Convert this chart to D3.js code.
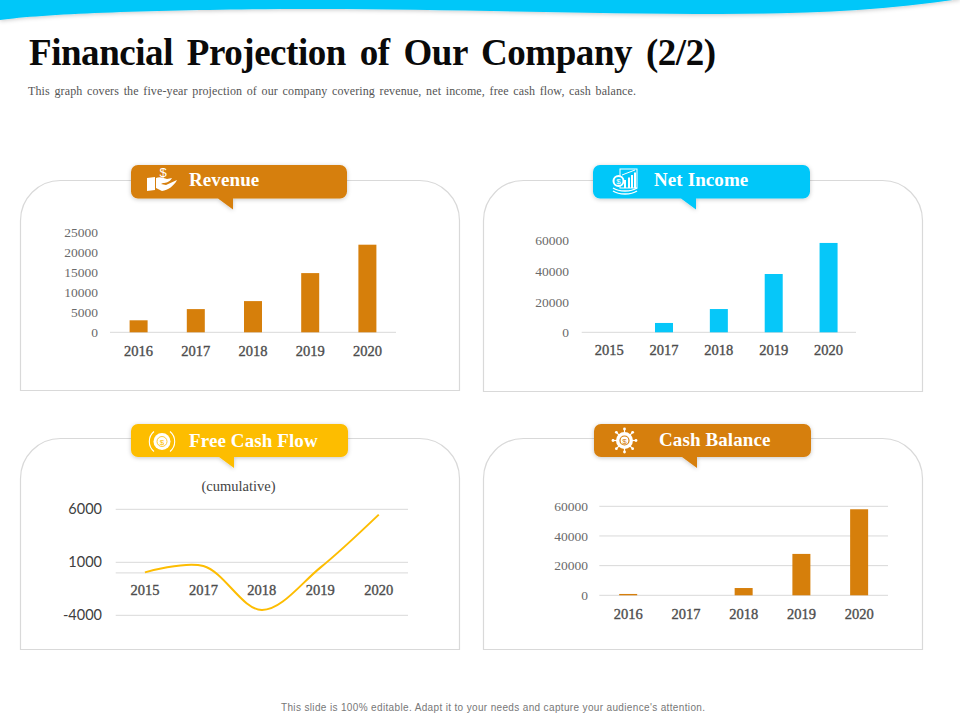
<!DOCTYPE html>
<html>
<head>
<meta charset="utf-8">
<style>
  html, body { margin: 0; padding: 0; background: #fff; }
  svg { display: block; }
  text { font-family: "Liberation Serif", serif; }
  .grid line { stroke: #d9d9d9; }
</style>
<script src="https://cdn.jsdelivr.net/npm/d3@7"></script>
</head>
<body>
<svg id="slide" width="960" height="720"></svg>
<script>
// chart values
var revenueYears = ['2016', '2017', '2018', '2019', '2020'];
var revenueValues = [3000, 5800, 7800, 14800, 21900];
var revenueTicks = [0, 5000, 10000, 15000, 20000, 25000];

var incomeYears = ['2015', '2017', '2018', '2019', '2020'];
var incomeValues = [0, 6100, 15200, 38100, 58400];
var incomeTicks = [0, 20000, 40000, 60000];

var cashFlowYears = ['2015', '2017', '2018', '2019', '2020'];
var cashFlowValues = [50, 650, -3500, 500, 5500];
var cashFlowTicks = [-4000, 1000, 6000];

var balanceYears = ['2016', '2017', '2018', '2019', '2020'];
var balanceValues = [900, 0, 4900, 27900, 58000];
var balanceTicks = [0, 20000, 40000, 60000];

var ORANGE = '#d67f0b', BLUE = '#06c7f9', YELLOW = '#fdbd02';

var svg = d3.select('#slide');

var defs = svg.append('defs');
var shadow = defs.append('filter').attr('id', 'soft').attr('x', '-10%').attr('y', '-20%').attr('width', '120%').attr('height', '150%');
shadow.append('feDropShadow').attr('dx', 0).attr('dy', 1).attr('stdDeviation', 2).attr('flood-color', '#000').attr('flood-opacity', 0.22);

// top wave
svg.append('path')
    .attr('d', 'M0,-4 L0,20 C50,13 180,9 320,9 C440,9 600,14 720,14 C800,14 880,11 960,-1 L960,-4 Z')
    .attr('fill', BLUE)
    .attr('filter', 'url(#soft)');

// heading
svg.append('text').attr('x', 29).attr('y', 65)
    .attr('font-size', 37).attr('font-weight', 700).attr('fill', '#0a0a0a')
    .attr('word-spacing', 5)
    .attr('textLength', 687).attr('lengthAdjust', 'spacing')
    .text('Financial Projection of Our Company (2/2)');

svg.append('text').attr('x', 28).attr('y', 95)
    .attr('font-size', 12).attr('fill', '#555')
    .attr('word-spacing', 1.5)
    .attr('textLength', 608).attr('lengthAdjust', 'spacing')
    .text('This graph covers  the five-year  projection  of our company covering  revenue,  net income,  free  cash  flow,  cash  balance.');

svg.append('text').attr('x', 493).attr('y', 711)
    .attr('text-anchor', 'middle').attr('font-size', 10).attr('fill', '#777')
    .style('font-family', '"Liberation Sans", sans-serif')
    .attr('textLength', 424).attr('lengthAdjust', 'spacing')
    .text("This slide is 100% editable. Adapt it to your needs and capture your audience's attention.");

// card outline, only the top corners are rounded
function drawCard(x, y, w, h) {
    var r = 40, p = d3.path();
    p.moveTo(x, y + h);
    p.lineTo(x, y + r);
    p.arcTo(x, y, x + r, y, r);
    p.lineTo(x + w - r, y);
    p.arcTo(x + w, y, x + w, y + r, r);
    p.lineTo(x + w, y + h);
    p.closePath();
    svg.append('path').attr('d', p.toString()).attr('fill', '#fff').attr('stroke', '#d9d9d9').attr('stroke-width', 1.2);
}

function drawCallout(x, y, w, h, tailX, color, label, labelX, labelY) {
    var r = 7, p = d3.path();
    p.moveTo(x + r, y);
    p.arcTo(x + w, y, x + w, y + h, r);
    p.arcTo(x + w, y + h, x, y + h, r);
    p.lineTo(tailX + 15, y + h);
    p.lineTo(tailX + 15, y + h + 11);
    p.lineTo(tailX, y + h);
    p.arcTo(x, y + h, x, y, r);
    p.arcTo(x, y, x + w, y, r);
    p.closePath();
    svg.append('path').attr('d', p.toString()).attr('fill', color).attr('filter', 'url(#soft)');
    svg.append('text').attr('x', labelX).attr('y', labelY)
        .attr('font-size', 19).attr('font-weight', 700).attr('fill', '#fff')
        .attr('letter-spacing', 0.1)
        .text(label);
}

function styleAxisText(sel, size, color) {
    sel.selectAll('text')
        .attr('font-size', size).attr('fill', color)
        .style('font-family', '"Liberation Serif", serif');
    sel.select('.domain').remove();
    sel.selectAll('.tick line').remove();
}

// years are a little heavier than plain regular in the picture
function thicken(sel, color) {
    sel.selectAll('text').attr('stroke', color).attr('stroke-width', 0.35);
}

function drawBars(opt) {
    var x = d3.scaleBand().domain(opt.years).range([opt.x0, opt.x1]);
    var y = d3.scaleLinear().domain(opt.domain).range([opt.base, opt.top]);
    var g = svg.append('g');

    if (opt.grid) {
        g.append('g').attr('class', 'grid').selectAll('line').data(opt.ticks).enter().append('line')
            .attr('x1', opt.x0).attr('x2', opt.x1)
            .attr('y1', function(d) { return y(d); }).attr('y2', function(d) { return y(d); });
    } else {
        g.append('line').attr('x1', opt.x0).attr('x2', opt.x1)
            .attr('y1', opt.base).attr('y2', opt.base).attr('stroke', '#d9d9d9');
    }

    g.selectAll('.bar').data(opt.values).enter().append('rect')
        .attr('class', 'bar')
        .attr('x', function(d, i) { return x(opt.years[i]) + x.bandwidth() / 2 - 9; })
        .attr('y', function(d) { return y(d); })
        .attr('width', 18)
        .attr('height', function(d) { return opt.base - y(d); })
        .attr('fill', opt.color);

    var left = g.append('g').attr('transform', 'translate(' + opt.labelX + ',0)')
        .call(d3.axisLeft(y).tickValues(opt.ticks).tickFormat(d3.format('d')).tickSize(0).tickPadding(0));
    styleAxisText(left, 13.5, '#6a6a6a');

    var bottom = g.append('g').attr('transform', 'translate(0,' + opt.base + ')')
        .call(d3.axisBottom(x).tickSize(0).tickPadding(opt.yearPad));
    styleAxisText(bottom, 14.5, '#4d4d4d');
    thicken(bottom, '#4d4d4d');
}

function drawCashFlow() {
    var x = d3.scaleBand().domain(cashFlowYears).range([115.7, 408]);
    var y = d3.scaleLinear().domain([-4000, 6000]).range([615.3, 509.3]);
    var g = svg.append('g');

    g.append('g').attr('class', 'grid').selectAll('line').data(cashFlowTicks.concat([0])).enter().append('line')
        .attr('x1', 115.7).attr('x2', 408)
        .attr('y1', function(d) { return y(d); }).attr('y2', function(d) { return y(d); });

    var left = g.append('g').attr('transform', 'translate(102,0)')
        .call(d3.axisLeft(y).tickValues(cashFlowTicks).tickFormat(function(d) { return String(d); }).tickSize(0).tickPadding(0));
    styleAxisText(left, 14.5, '#404040');
    left.selectAll('text').style('font-family', 'Lato, sans-serif');

    var bottom = g.append('g').attr('transform', 'translate(0,' + y(0) + ')')
        .call(d3.axisBottom(x).tickSize(0).tickPadding(12));
    styleAxisText(bottom, 14.5, '#4d4d4d');
    thicken(bottom, '#4d4d4d');

    var line = d3.line()
        .x(function(d, i) { return x(cashFlowYears[i]) + x.bandwidth() / 2; })
        .y(function(d) { return y(d); })
        .curve(d3.curveCatmullRom.alpha(0.5));
    g.append('path').datum(cashFlowValues)
        .attr('d', line)
        .attr('fill', 'none').attr('stroke', YELLOW).attr('stroke-width', 2);

    g.append('text').attr('x', 238.5).attr('y', 491)
        .attr('text-anchor', 'middle').attr('font-size', 14.5).attr('fill', '#444')
        .text('(cumulative)');
}

// white glyphs inside the callouts
function iconHand(cx, cy) {
    var g = svg.append('g').attr('transform', 'translate(' + cx + ',' + cy + ')').attr('fill', '#fff');
    g.append('path').attr('d', 'M-15,-3 L-7,-4 L-7,9 L-15,10 Z');
    g.append('path').attr('d', 'M-6,-3 C-2,-5 2,-3 5,-2 L10,-3 C8,1 4,2 1,2 L-1,3 L4,4 L15,-1 C12,5 6,9 0,10 L-6,7 Z');
    g.append('text').attr('x', 1).attr('y', -4).attr('text-anchor', 'middle')
        .attr('font-size', 13).style('font-family', '"Liberation Sans", sans-serif').text('$');
}

function iconCoin(cx, cy) {
    var g = svg.append('g').attr('transform', 'translate(' + cx + ',' + cy + ')');
    g.append('circle').attr('r', 8.5).attr('fill', '#fff');
    g.append('circle').attr('r', 5).attr('fill', 'none').attr('stroke', YELLOW).attr('stroke-width', 0.8);
    g.append('text').attr('y', 3).attr('text-anchor', 'middle').attr('font-size', 8).attr('fill', YELLOW)
        .style('font-family', '"Liberation Sans", sans-serif').text('$');
    [-1, 1].forEach(function(s) {
        g.append('path')
            .attr('d', 'M' + (s * 8) + ',-10 A13,13 0 0 ' + (s < 0 ? 0 : 1) + ' ' + (s * 8) + ',10')
            .attr('fill', 'none').attr('stroke', '#fff').attr('stroke-width', 1.1);
    });
}

function iconIncome(cx, cy) {
    var g = svg.append('g').attr('transform', 'translate(' + cx + ',' + cy + ')');
    g.append('rect').attr('x', -5).attr('y', -12).attr('width', 17).attr('height', 19)
        .attr('fill', 'none').attr('stroke', '#fff');
    [-1, 3, 6, 9].forEach(function(b, i) {
        g.append('rect').attr('x', b).attr('y', -1 - i * 2.5).attr('width', 2).attr('height', 8 + i * 2.5).attr('fill', '#fff');
    });
    g.append('path').attr('d', 'M-3,-6 L10,-11').attr('stroke', '#fff');
    g.append('circle').attr('cx', -6.5).attr('cy', 0).attr('r', 5).attr('fill', BLUE).attr('stroke', '#fff').attr('stroke-width', 2);
    g.append('text').attr('x', -6.5).attr('y', 3).attr('text-anchor', 'middle').attr('font-size', 8).attr('fill', '#fff')
        .style('font-family', '"Liberation Sans", sans-serif').text('$');
    g.append('path').attr('d', 'M-12,7 C-6,11 6,11 12,7 M-12,10 C-6,14 6,14 12,10').attr('fill', 'none').attr('stroke', '#fff').attr('stroke-width', 1.4);
}

function iconGear(cx, cy) {
    var g = svg.append('g').attr('transform', 'translate(' + cx + ',' + cy + ')');
    d3.range(8).forEach(function(i) {
        var a = i * Math.PI / 4;
        g.append('line').attr('x2', 11.5 * Math.cos(a)).attr('y2', 11.5 * Math.sin(a)).attr('stroke', '#fff').attr('stroke-width', 1.2);
        g.append('circle').attr('cx', 11.5 * Math.cos(a)).attr('cy', 11.5 * Math.sin(a)).attr('r', 1.4).attr('fill', '#fff');
    });
    g.append('circle').attr('r', 8.5).attr('fill', '#fff');
    g.append('circle').attr('r', 4.5).attr('fill', 'none').attr('stroke', ORANGE).attr('stroke-width', 1.2);
    g.append('text').attr('y', 3).attr('text-anchor', 'middle').attr('font-size', 8).attr('fill', ORANGE)
        .style('font-family', '"Liberation Sans", sans-serif').text('$');
}

drawCard(20.5, 180.5, 439, 210);
drawCard(483.5, 180.5, 439, 211);
drawCard(20.5, 438.5, 439, 211);
drawCard(483.5, 438.5, 439, 211);

drawCallout(131, 165, 216, 33.5, 218, ORANGE, 'Revenue', 189, 186);
drawCallout(593, 165, 217, 33.5, 681, BLUE, 'Net Income', 654, 186);
drawCallout(131, 424, 217, 33, 219, YELLOW, 'Free Cash Flow', 189, 447);
drawCallout(594, 424, 217, 33, 682, ORANGE, 'Cash Balance', 659, 446);

iconHand(162, 181);
iconIncome(625, 181);
iconCoin(162, 441.5);
iconGear(624.5, 440.5);

drawBars({ years: revenueYears, values: revenueValues, ticks: revenueTicks, domain: [0, 25000],
    x0: 110, x1: 396, base: 332.3, top: 232.3, color: ORANGE, labelX: 98, yearPad: 13 });
drawBars({ years: incomeYears, values: incomeValues, ticks: incomeTicks, domain: [0, 60000],
    x0: 581.7, x1: 856, base: 332.3, top: 240.5, color: BLUE, labelX: 569, yearPad: 12 });
drawBars({ years: balanceYears, values: balanceValues, ticks: balanceTicks, domain: [0, 60000],
    x0: 599.3, x1: 888, base: 595.3, top: 506.3, color: ORANGE, labelX: 588, yearPad: 13, grid: true });
drawCashFlow();
</script>
</body>
</html>
